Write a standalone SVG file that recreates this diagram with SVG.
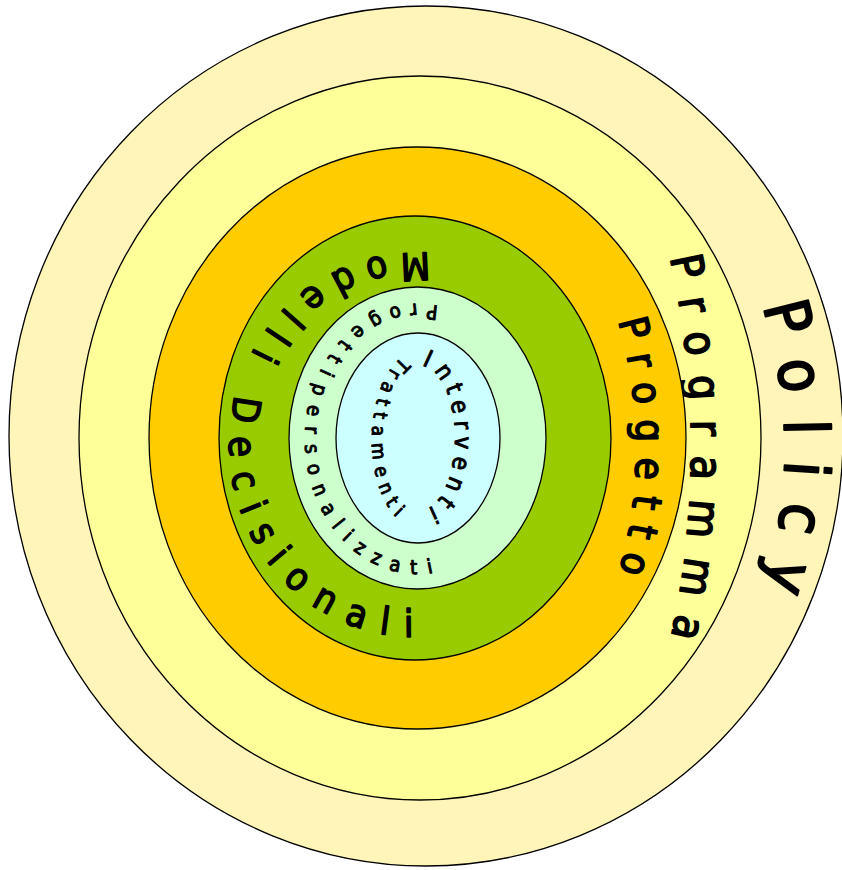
<svg xmlns="http://www.w3.org/2000/svg" width="842" height="870" viewBox="0 0 842 870">
<style>
.ring{stroke:#000;stroke-width:1.3}
.t{font-family:"DejaVu Sans","Liberation Sans",sans-serif;font-stretch:condensed;fill:#000;stroke:#000;stroke-linejoin:round}
</style>
<defs>
<path id="pPolicy" d="M 606 92.3 A 357 413 0 0 1 606 807.7"/>
<path id="pProgramma" d="M 611.3 99.3 A 272 496 0 0 1 611.3 800.7"/>
<path id="pProgetto" d="M 557.8 203.6 A 219 319 0 0 1 557.8 692.4"/>
<path id="pModelli" d="M 463.1 259.5 A 186 192 0 1 0 463.1 630.5"/>
<path id="pPers" d="M 473.75 322.1 A 112.5 135 0 1 0 473.75 555.9"/>
<path id="pTratt" d="M 450.5 377.8 A 46 88 0 1 0 450.5 502.2"/>
<path id="pInterv" d="M 402.5 375.6 A 35 72 0 1 1 402.5 500.4"/>
</defs>
<rect width="842" height="870" fill="#fff"/>
<g id="policy">
<ellipse class="ring" cx="426" cy="436" rx="417" ry="430" fill="#FFF5B8"/>
<text class="t" font-size="62" stroke-width="2" letter-spacing="25" text-anchor="middle"><textPath href="#pPolicy" startOffset="51.1%">Policy</textPath></text>
</g>
<g id="programma">
<ellipse class="ring" cx="420" cy="438" rx="341" ry="362" fill="#FFFF99"/>
<text class="t" font-size="44" stroke-width="1.7" letter-spacing="19" text-anchor="middle"><textPath href="#pProgramma" startOffset="50.9%">Programma</textPath></text>
</g>
<g id="progetto">
<ellipse class="ring" cx="417.5" cy="438" rx="268.5" ry="291" fill="#FFCC00"/>
<text class="t" font-size="40" stroke-width="1.6" letter-spacing="14.5" text-anchor="middle"><textPath href="#pProgetto" startOffset="51%">Progetto</textPath></text>
</g>
<g id="modelli-decisionali">
<ellipse class="ring" cx="415" cy="438" rx="196" ry="222" fill="#99CC00"/>
<text class="t" font-size="38" stroke-width="1.5" letter-spacing="16" text-anchor="middle"><textPath href="#pModelli" startOffset="50%">Modelli Decisionali</textPath></text>
</g>
<g id="progetti-personalizzati">
<ellipse class="ring" cx="417.5" cy="438" rx="128.5" ry="151" fill="#CCFFCC"/>
<text class="t" font-size="20" stroke-width="1" letter-spacing="11" text-anchor="middle"><textPath href="#pPers" startOffset="50.6%">Progettipersonalizzati</textPath></text>
</g>
<g id="interventi-trattamenti">
<ellipse class="ring" cx="418" cy="438" rx="82" ry="105" fill="#CCFFFF"/>
<text class="t" font-size="19" stroke-width="1" letter-spacing="7.5" text-anchor="middle"><textPath href="#pTratt" startOffset="50%">Trattamenti</textPath></text>
<text class="t" font-size="24" stroke-width="1" letter-spacing="6.5" text-anchor="middle"><textPath href="#pInterv" startOffset="50%">Interventi</textPath></text>
</g>
<g id="connectors"/>
</svg>
